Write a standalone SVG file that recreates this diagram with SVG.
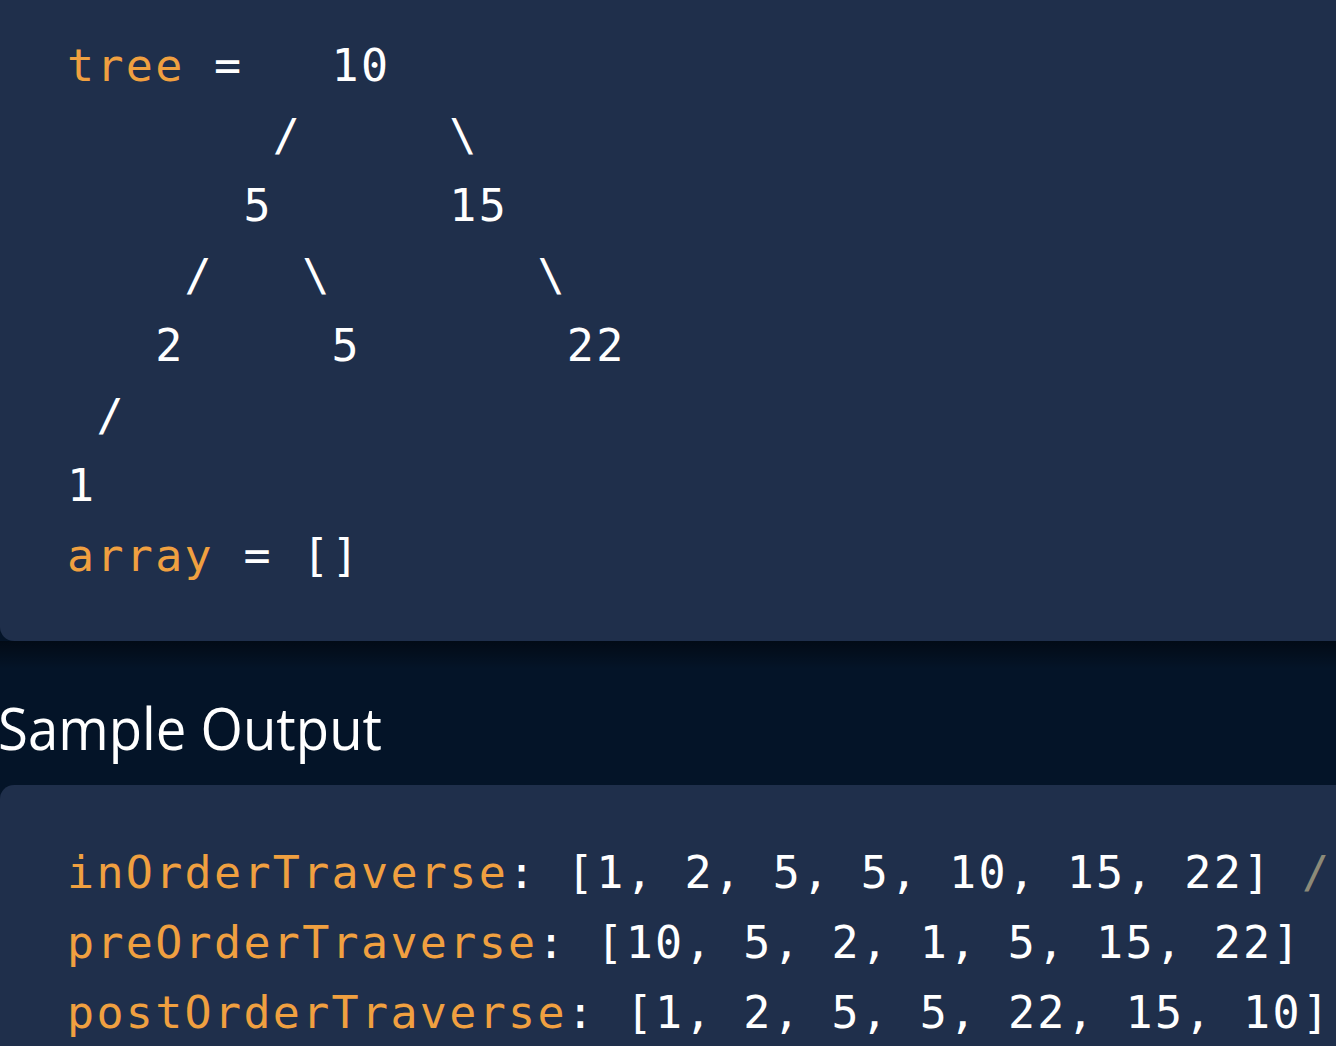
<svg xmlns="http://www.w3.org/2000/svg" width="1336" height="1046" viewBox="0 0 1336 1046">
  <defs>
    <style>
      .code { font-family: "DejaVu Sans Mono", "Liberation Mono", monospace; font-size: 45px; letter-spacing: 2.31px; fill: #ffffff; white-space: pre; }
      .kw { fill: #f0a040; }
      .cm { fill: #8c8a78; }
      .block { fill: #1f2f4b; }
      .head { font-family: "Open Sans", "Noto Sans", sans-serif; font-size: 58px; font-weight: 500; fill: #ffffff; }
    </style>
    <linearGradient id="shadow" x1="0" y1="0" x2="0" y2="1">
      <stop offset="0" stop-color="#000000" stop-opacity="0.45"/>
      <stop offset="1" stop-color="#000000" stop-opacity="0"/>
    </linearGradient>
  </defs>
  <rect x="0" y="0" width="1336" height="1046" fill="#041428"/>
  <rect x="0" y="641" width="1336" height="28" fill="url(#shadow)"/>

  <g id="input-block">
    <rect class="block" x="0" y="-30" width="1370" height="671" rx="14"/>
    <text class="code" xml:space="preserve" x="67" y="81"><tspan class="kw">tree</tspan> =   10</text>
    <text class="code" xml:space="preserve" x="67" y="151">       /     \</text>
    <text class="code" xml:space="preserve" x="67" y="221">      5      15</text>
    <text class="code" xml:space="preserve" x="67" y="291">    /   \       \</text>
    <text class="code" xml:space="preserve" x="67" y="361">   2     5       22</text>
    <text class="code" xml:space="preserve" x="67" y="431"> /</text>
    <text class="code" xml:space="preserve" x="67" y="501">1</text>
    <text class="code" xml:space="preserve" x="67" y="571"><tspan class="kw">array</tspan> = []</text>
  </g>

  <g id="heading">
    <text class="head" x="-2" y="750" textLength="384" lengthAdjust="spacingAndGlyphs">Sample Output</text>
  </g>

  <g id="output-block">
    <rect class="block" x="0" y="785" width="1370" height="300" rx="14"/>
    <text class="code" xml:space="preserve" x="67" y="888"><tspan class="kw">inOrderTraverse</tspan>: [1, 2, 5, 5, 10, 15, 22] <tspan class="cm">/</tspan></text>
    <text class="code" xml:space="preserve" x="67" y="958"><tspan class="kw">preOrderTraverse</tspan>: [10, 5, 2, 1, 5, 15, 22]</text>
    <text class="code" xml:space="preserve" x="67" y="1028"><tspan class="kw">postOrderTraverse</tspan>: [1, 2, 5, 5, 22, 15, 10]</text>
  </g>
</svg>
